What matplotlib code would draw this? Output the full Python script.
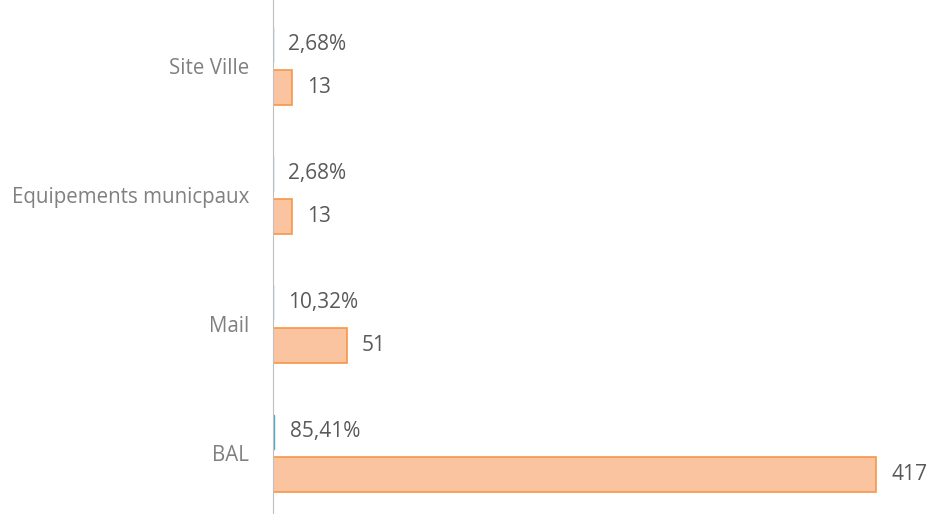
import numpy as np
import matplotlib.pyplot as plt

categories = ["BAL", "Mail", "Equipements municpaux", "Site Ville"]
counts = [417, 51, 13, 13]
shares = [0.8541, 0.1032, 0.0268, 0.0268]

plt.rcParams['font.family'] = ['Open Sans', 'DejaVu Sans']

fig = plt.figure(figsize=(9.28, 5.14), dpi=100)
ax = fig.add_axes([273/928, 0, 1 - 273/928, 1])

y = np.arange(len(categories))
h = 0.27
off = 0.165

ax.barh(y + off, shares, height=h, color="#b7dde8", edgecolor="#4bacc6", linewidth=1)
ax.barh(y - off, counts, height=h, color="#fbc4a0", edgecolor="#f79646", linewidth=1.2)

for yi, s in zip(y, shares):
    txt = ("%.2f%%" % (s * 100)).replace(".", ",")
    ax.annotate(txt, (s, yi + off), xytext=(11, 0), textcoords="offset points",
                va="center", ha="left", fontsize=15, color="#595959")
for yi, c in zip(y, counts):
    ax.annotate(str(c), (c, yi - off), xytext=(11, 0), textcoords="offset points",
                va="center", ha="left", fontsize=15, color="#595959")

ax.set_xlim(0, 417 * (928 - 273) / (876 - 273))
ax.set_ylim(-0.47, 3.51)
ax.set_yticks(y)
ax.set_yticklabels(categories, fontsize=14.8, color="#808080")
ax.tick_params(axis="y", length=0, pad=17)
ax.set_xticks([])
for side in ["top", "right", "bottom"]:
    ax.spines[side].set_visible(False)
ax.spines["left"].set_color("#bfbfbf")

fig.savefig("out.png", dpi=100)
